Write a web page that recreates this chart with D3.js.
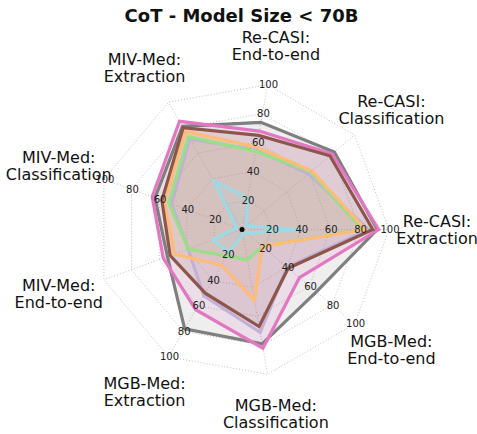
<!DOCTYPE html>
<html>
<head>
<meta charset="utf-8">
<style>
  body { margin: 0; background: #fff; }
  text { font-family: "DejaVu Sans", sans-serif; fill: #111; }
  .title { font-weight: bold; font-size: 18px; }
  .cat { font-size: 16px; }
  .tick { font-size: 10px; fill: #222; }
</style>
</head>
<body>
<script src="https://cdn.jsdelivr.net/npm/d3@7"></script>
<script>
// axes, counter-clockwise starting at the right
var categories = [
  "Re-CASI:\nExtraction", "Re-CASI:\nClassification", "Re-CASI:\nEnd-to-end",
  "MIV-Med:\nExtraction", "MIV-Med:\nClassification", "MIV-Med:\nEnd-to-end",
  "MGB-Med:\nExtraction", "MGB-Med:\nClassification", "MGB-Med:\nEnd-to-end"
];
var tickValues = [20, 40, 60, 80, 100];

var modelGray     = [92, 82, 74, 81, 63, 54, 78, 79, 66];
var modelLavender = [86, 59, 55, 71, 51, 39, 52, 71, 40];
var modelGreen    = [82, 61, 54, 73, 53, 39, 21, 21, 18];
var modelOrange   = [84, 62, 57, 77, 56, 49, 28, 49, 18];
var modelPink     = [93, 80, 68, 85, 65, 57, 63, 82, 51];
var modelBrown    = [89, 78, 65, 80, 58, 52, 50, 67, 41];
var modelCyan     = [40, 4, 22, 38, 4, 21, 18, 3, 4];

var series = [
  {values: modelGray, color: "#7f7f7f"},
  {values: modelLavender, color: "#c5b0d5"},
  {values: modelGreen, color: "#98df8a"},
  {values: modelOrange, color: "#ffbb78"},
  {values: modelPink, color: "#e377c2"},
  {values: modelBrown, color: "#8c564b"},
  {values: modelCyan, color: "#9edae5"}
];

var width = 477, height = 434;
var cx = 242, cy = 229.5, R = 147;

var r = d3.scaleLinear().domain([0, 100]).range([0, R]);
var angle = d3.scaleLinear().domain([0, categories.length]).range([0, 2 * Math.PI]);

function pt(i, v) {
  var a = angle(i);
  return [cx + r(v) * Math.cos(a), cy - r(v) * Math.sin(a)];
}

var svg = d3.select("body").append("svg")
    .attr("width", width)
    .attr("height", height);

svg.append("text")
    .attr("class", "title")
    .attr("x", 241.5)
    .attr("y", 22)
    .attr("text-anchor", "middle")
    .text("CoT - Model Size < 70B");

var grid = svg.append("g");
var line = d3.line().curve(d3.curveLinearClosed);

tickValues.forEach(function(t) {
  grid.append("path")
      .attr("d", line(categories.map(function(c, i) { return pt(i, t); })))
      .attr("fill", "none")
      .attr("stroke", "#b0b0b0")
      .attr("stroke-width", 0.8)
      .attr("stroke-dasharray", "1,2");
});
categories.forEach(function(c, i) {
  var p = pt(i, 100);
  grid.append("line")
      .attr("x1", cx).attr("y1", cy)
      .attr("x2", p[0]).attr("y2", p[1])
      .attr("stroke", "#b0b0b0")
      .attr("stroke-width", 0.8)
      .attr("stroke-dasharray", "1,2");
});

// fills first, then outlines
series.forEach(function(s) {
  svg.append("path")
      .attr("d", line(s.values.map(function(v, i) { return pt(i, v); })))
      .attr("fill", s.color)
      .attr("fill-opacity", 0.13)
      .attr("stroke", "none");
});
series.forEach(function(s) {
  svg.append("path")
      .attr("d", line(s.values.map(function(v, i) { return pt(i, v); })))
      .attr("fill", "none")
      .attr("stroke", s.color)
      .attr("stroke-width", 3.2)
      .attr("stroke-linejoin", "miter");
});

svg.append("circle")
    .attr("cx", cx).attr("cy", cy).attr("r", 2.5)
    .attr("fill", "#000");

// tick labels on every other axis
categories.forEach(function(c, i) {
  if (i % 2 !== 0) return;
  tickValues.forEach(function(t) {
    var p = pt(i, t);
    svg.append("text")
        .attr("class", "tick")
        .attr("x", p[0] + 1)
        .attr("y", p[1])
        .attr("text-anchor", "middle")
        .attr("dominant-baseline", "central")
        .text(t);
  });
});

// category labels sit on a slightly wider-than-tall ring
var rx = 195, ry = 187;
categories.forEach(function(c, i) {
  var a = angle(i);
  var x = cx + rx * Math.cos(a), y = cy + 0.5 - ry * Math.sin(a);
  var lines = c.split("\n");
  var tx = svg.append("text")
      .attr("class", "cat")
      .attr("text-anchor", "middle")
      .attr("x", x)
      .attr("y", y);
  lines.forEach(function(l, k) {
    tx.append("tspan")
        .attr("x", x)
        .attr("y", y + (k - 0.5) * 17.5)
        .attr("dominant-baseline", "central")
        .text(l);
  });
});
</script>
</body>
</html>
